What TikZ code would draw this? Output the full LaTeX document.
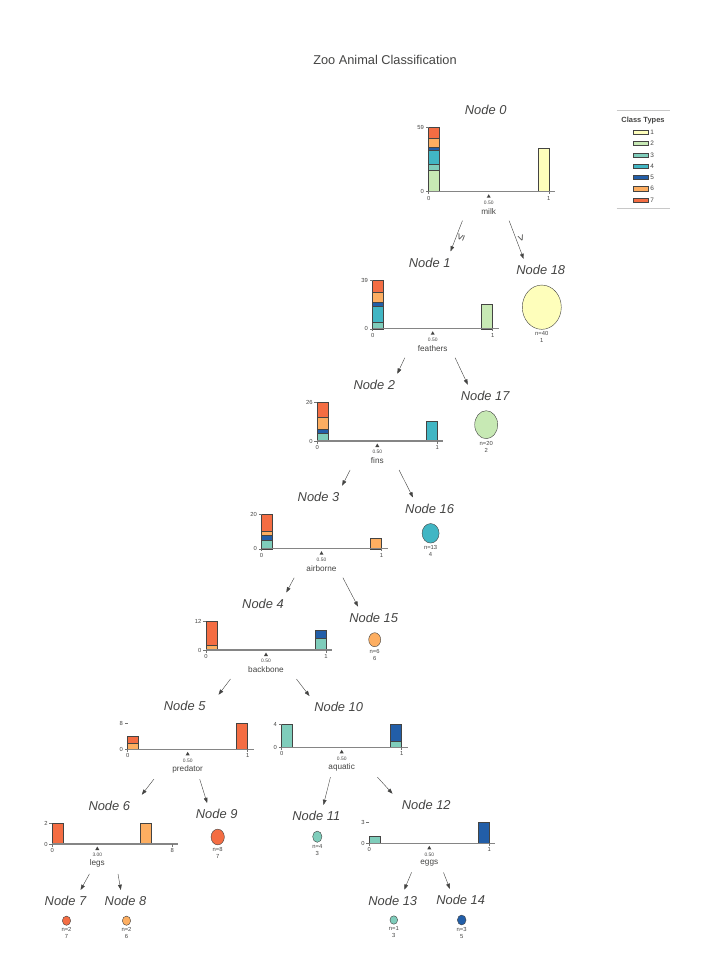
\documentclass[tikz,border=0pt]{standalone}
\usepackage{fontspec}
\setmainfont{Liberation Sans}
\usepackage{tikz}
\usetikzlibrary{fit,arrows.meta}
\definecolor{txt}{HTML}{444443}
\definecolor{rulegray}{HTML}{C8C8C8}
\definecolor{cls1}{HTML}{FEFEBB}
\definecolor{cls2}{HTML}{C7E9B4}
\definecolor{cls3}{HTML}{7FCDBB}
\definecolor{cls4}{HTML}{41B6C4}
\definecolor{cls5}{HTML}{225EA8}
\definecolor{cls6}{HTML}{FDAE61}
\definecolor{cls7}{HTML}{F46D43}

% split node: id, x of 0, y of axis, chart height, top count, right tick, split offset, split value, feature
\newcommand{\splitchart}[9]{%
  \node[nodelabel] (l#1) at (#2+57,#3-#4-17.5) {Node #1};
  \draw[axisline] (#2,#3) -- (#2+126,#3) coordinate (a#1);
  \draw[tickmark] (#2,#3) -- ++(0,2.5) (#2+120,#3) -- ++(0,2.5)
    (#2,#3) -- ++(-3,0) (#2,#3-#4) -- ++(-3,0);
  \node[ticklabel] (xa#1) at (#2,#3+6.5) {0};
  \node[ticklabel] (xb#1) at (#2+120,#3+6.5) {#6};
  \node[ticklabel, anchor=east] (ya#1) at (#2-4.5,#3) {0};
  \node[ticklabel, anchor=east] (yb#1) at (#2-4.5,#3-#4) {#5};
  \fill[txt] (#2+#7,#3+2.5) -- ++(2,3.5) -- ++(-4,0) -- cycle;
  \node[splitlabel] (s#1) at (#2+#7,#3+11) {#8};
  \node[featlabel] (f#1) at (#2+#7,#3+19.7) {#9};
  \node[nodebox, fit=(l#1)(f#1)(yb#1)(a#1)] (n#1) {};
}
% leaf: id, centre x, centre y, width, height, colour, n, class
\newcommand{\leafnode}[8]{%
  \draw[seg, fill=#6] (#2,#3) ellipse [x radius=#4/2, y radius=#5/2];
  \node[nodelabel] (l#1) at (#2-1,#3-#5/2-15) {Node #1};
  \node[leaflabel] (m#1) at (#2,#3+#5/2+4.5) {n=#7};
  \node[leaflabel] (c#1) at (#2,#3+#5/2+11.3) {#8};
  \node[nodebox, fit=(l#1)(c#1)] (n#1) {};
}
% stacked bar: x offset, list of low/high/colour
\newcommand{\barstack}[2]{\foreach \lo/\hi/\c in {#2} \draw[seg, fill=\c] (#1,\lo) rectangle (#1+11,\hi);}

\begin{document}
\begin{tikzpicture}[x=0.03cm, y=-0.03cm, >={Triangle[length=4.5pt,width=3.2pt]},
  every node/.style={text=txt, inner sep=0pt},
  titlelabel/.style={font=\fontsize{10.9}{12}\selectfont},
  nodelabel/.style={font=\fontsize{11}{12}\selectfont\itshape},
  featlabel/.style={font=\fontsize{7}{8}\selectfont},
  ticklabel/.style={font=\fontsize{5}{6}\selectfont},
  splitlabel/.style={font=\fontsize{4.2}{5}\selectfont},
  leaflabel/.style={font=\fontsize{5}{6}\selectfont},
  legendlabel/.style={font=\fontsize{5.5}{6}\selectfont},
  edgelabel/.style={font=\fontsize{9.5}{10}\selectfont},
  seg/.style={draw=txt, line width=0.35pt},
  axisline/.style={draw=txt!65, line width=0.9pt},
  tickmark/.style={draw=txt!75, line width=0.35pt},
  link/.style={->, draw=txt, line width=0.35pt},
  nodebox/.style={inner sep=5pt}]
\useasboundingbox (0,0) rectangle (714,973);

\node[titlelabel] (title) at (385,60) {Zoo Animal Classification};

% legend
\draw[rulegray, line width=0.8pt] (616.7,110) -- (670,110) (616.7,208.3) -- (670,208.3);
\node[font=\fontsize{6.4}{7}\selectfont\bfseries] (lgt) at (643,120.7) {Class Types};
\foreach \i in {1,...,7}{
  \draw[seg, fill=cls\i] (633.3,121+11.28*\i-2.1) rectangle ++(14.4,4.2);
  \node[legendlabel, anchor=west] (lg\i) at (650.2,121+11.28*\i) {\i};
}

% decision nodes
\begin{scope}[shift={(428.7,191.7)}, yscale=-1.085]
  \barstack{0}{0/20/cls2,20/25/cls3,25/38/cls4,38/41/cls5,41/49/cls6,49/59/cls7}
  \barstack{109}{0/40/cls1}
\end{scope}
\splitchart{0}{428.7}{191.7}{64}{59}{1}{60}{0.50}{milk}

\begin{scope}[shift={(372.7,328.7)}, yscale=-1.249]
  \barstack{0}{0/5/cls3,5/18/cls4,18/21/cls5,21/29/cls6,29/39/cls7}
  \barstack{109}{0/20/cls2}
\end{scope}
\splitchart{1}{372.7}{328.7}{48.7}{39}{1}{60}{0.50}{feathers}

\begin{scope}[shift={(317.3,441)}, yscale=-1.488]
  \barstack{0}{0/5/cls3,5/8/cls5,8/16/cls6,16/26/cls7}
  \barstack{109}{0/13/cls4}
\end{scope}
\splitchart{2}{317.3}{441}{38.7}{26}{1}{60}{0.50}{fins}

\begin{scope}[shift={(261.5,548.7)}, yscale=-1.725]
  \barstack{0}{0/5/cls3,5/8/cls5,8/10/cls6,10/20/cls7}
  \barstack{109}{0/6/cls6}
\end{scope}
\splitchart{3}{261.5}{548.7}{34.5}{20}{1}{60}{0.50}{airborne}

\begin{scope}[shift={(206,650)}, yscale=-2.417]
  \barstack{0}{0/2/cls6,2/12/cls7}
  \barstack{109}{0/5/cls3,5/8/cls5}
\end{scope}
\splitchart{4}{206}{650}{29}{12}{1}{60}{0.50}{backbone}

\begin{scope}[shift={(127.7,749.3)}, yscale=-3.25]
  \barstack{0}{0/2/cls6,2/4/cls7}
  \barstack{109}{0/8/cls7}
\end{scope}
\splitchart{5}{127.7}{749.3}{26}{8}{1}{60}{0.50}{predator}

\begin{scope}[shift={(281.7,747.3)}, yscale=-5.675]
  \barstack{0}{0/4/cls3}
  \barstack{109}{0/1/cls3,1/4/cls5}
\end{scope}
\splitchart{10}{281.7}{747.3}{22.7}{4}{1}{60}{0.50}{aquatic}

\begin{scope}[shift={(52.3,844)}, yscale=-10.35]
  \barstack{0}{0/2/cls7}
  \barstack{87.7}{0/2/cls6}
\end{scope}
\splitchart{6}{52.3}{844}{20.7}{2}{8}{45}{3.00}{legs}

\begin{scope}[shift={(369.3,843.3)}, yscale=-7]
  \barstack{0}{0/1/cls3}
  \barstack{109}{0/3/cls5}
\end{scope}
\splitchart{12}{369.3}{843.3}{21}{3}{1}{60}{0.50}{eggs}

% leaves
\leafnode{18}{541.8}{307.2}{39}{44.3}{cls1}{40}{1}
\leafnode{17}{486.2}{424.7}{23}{28}{cls2}{20}{2}
\leafnode{16}{430.6}{533.3}{17}{19.5}{cls4}{13}{4}
\leafnode{15}{374.7}{639.7}{12}{14}{cls6}{6}{6}
\leafnode{9}{217.7}{837}{13.3}{15.7}{cls7}{8}{7}
\leafnode{11}{317.3}{836.7}{9.3}{11.3}{cls3}{4}{3}
\leafnode{7}{66.5}{920.7}{8.3}{9.3}{cls7}{2}{7}
\leafnode{8}{126.5}{920.7}{8.3}{9.3}{cls6}{2}{6}
\leafnode{13}{393.8}{920}{7.7}{8.5}{cls3}{1}{3}
\leafnode{14}{461.7}{920}{8.7}{10}{cls5}{3}{5}

% edges
\draw[link] (n0) -- node[edgelabel, sloped, below=1pt] (le) {≤} (n1);
\draw[link] (n0) -- node[edgelabel, sloped, above=1pt] (gt) {>} (n18);
\draw[link] (n1) -- (n2);
\draw[link] (n1) -- (n17);
\draw[link] (n2) -- (n3);
\draw[link] (n2) -- (n16);
\draw[link] (n3) -- (n4);
\draw[link] (n3) -- (n15);
\draw[link] (n4) -- (n5);
\draw[link] (n4) -- (n10);
\draw[link] (n5) -- (n6);
\draw[link] (n5) -- (n9);
\draw[link] (n10) -- (n11);
\draw[link] (n10) -- (n12);
\draw[link] (n6) -- (n7);
\draw[link] (n6) -- (n8);
\draw[link] (n12) -- (n13);
\draw[link] (n12) -- (n14);
\end{tikzpicture}
\end{document}
